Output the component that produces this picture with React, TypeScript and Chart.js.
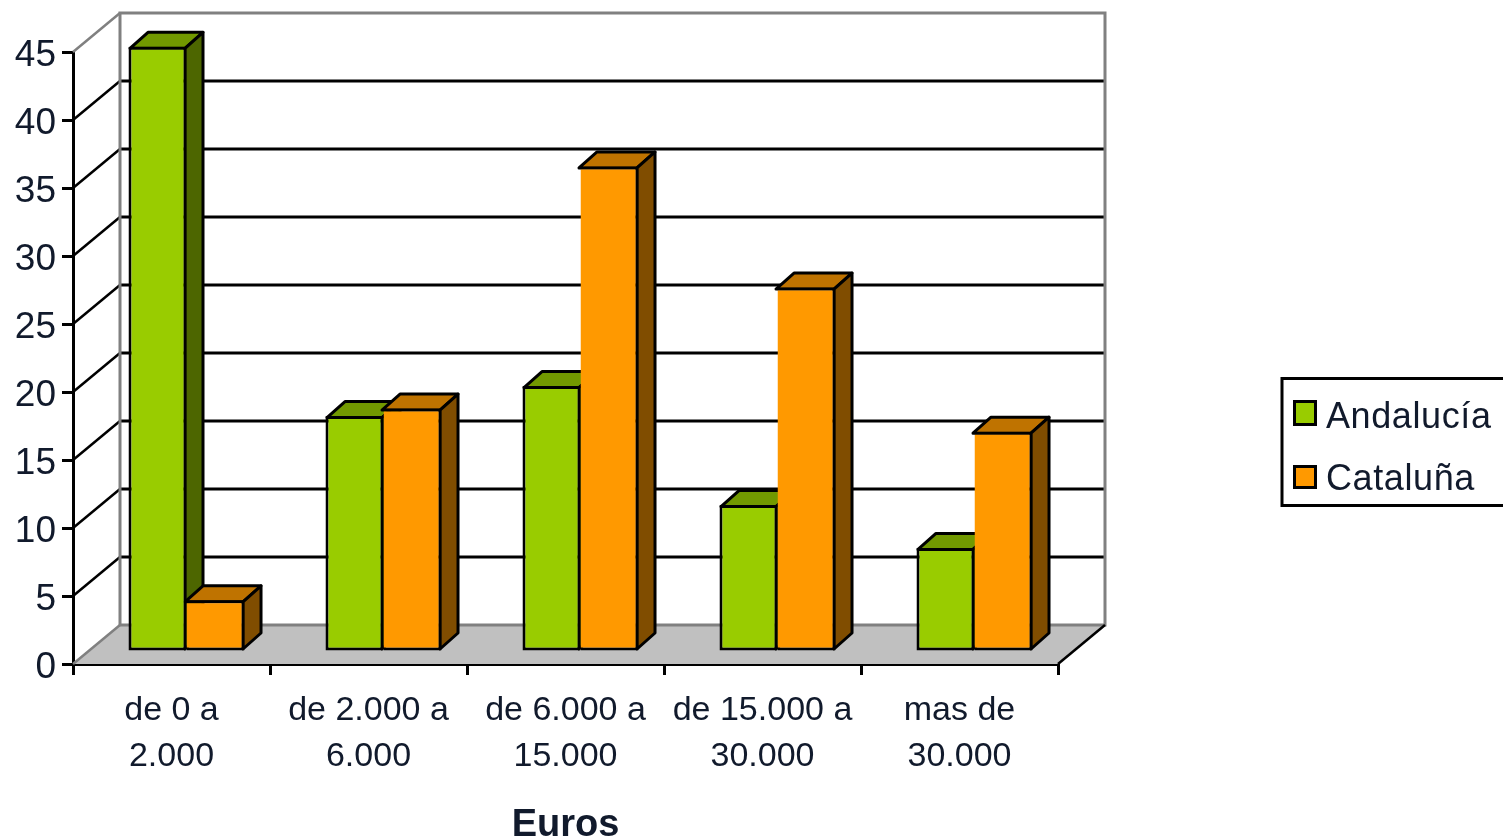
import React, { useEffect, useRef } from "react";
import { Chart, registerables } from "chart.js";

Chart.register(...registerables);

const categories = [
  ["de 0 a", "2.000"],
  ["de 2.000 a", "6.000"],
  ["de 6.000 a", "15.000"],
  ["de 15.000 a", "30.000"],
  ["mas de", "30.000"],
];
const andalucia = [44.5, 17.35, 19.55, 10.8, 7.65];
const cataluna = [3.8, 17.9, 35.7, 26.8, 16.2];
const yTicks = [0, 5, 10, 15, 20, 25, 30, 35, 40, 45];
const seriesNames = ["Andalucía", "Cataluña"];
const xTitle = "Euros";

const FONT = "'Liberation Sans', Arial, sans-serif";
const TEXT = "#111a2c";
const LW = 3;
const BACK = { dx: 47, dy: -39 };
const BAR = { dx: 15, dy: -12 };
const DEPTH = { dx: 18, dy: -16 };
const Y_LABEL_SHIFT = 4;

const palette = [
  { front: "#99CC00", top: "#729900", side: "#4D6600" },
  { front: "#FF9900", top: "#BF7300", side: "#804D00" },
];

function poly(ctx: CanvasRenderingContext2D, pts: number[][], fill: string | null, stroke: string | null, lw = LW) {
  ctx.beginPath();
  pts.forEach((p, i) => (i ? ctx.lineTo(p[0], p[1]) : ctx.moveTo(p[0], p[1])));
  ctx.closePath();
  if (fill) {
    ctx.fillStyle = fill;
    ctx.fill();
  }
  if (stroke) {
    ctx.strokeStyle = stroke;
    ctx.lineWidth = lw;
    ctx.lineJoin = "round";
    ctx.stroke();
  }
}

const wallsPlugin = {
  id: "walls",
  beforeDraw(chart: any) {
    // Lower the y tick labels a little, once, as in the reference.
    const scale = chart.scales.y;
    scale.getLabelItems().forEach((item: any) => {
      if (!item.shifted) {
        item.textOffset += Y_LABEL_SHIFT;
        item.shifted = true;
      }
    });
  },
  beforeDatasetsDraw(chart: any) {
    const { ctx, scales, chartArea } = chart;
    const { left, right } = chartArea;
    const y = scales.y;
    const y0 = y.getPixelForValue(0);
    const yMax = y.getPixelForValue(45);
    ctx.save();
    poly(
      ctx,
      [
        [left, y0],
        [left + BACK.dx, y0 + BACK.dy],
        [right + BACK.dx, y0 + BACK.dy],
        [right, y0],
      ],
      "#C0C0C0",
      null
    );
    yTicks.forEach((t) => {
      const py = y.getPixelForValue(t);
      const inner = t > 0 && t < 45;
      ctx.lineWidth = LW;
      if (inner) {
        ctx.strokeStyle = "#000";
        ctx.beginPath();
        ctx.moveTo(left + BACK.dx, py + BACK.dy);
        ctx.lineTo(right + BACK.dx, py + BACK.dy);
        ctx.stroke();
      }
      ctx.strokeStyle = inner ? "#000" : "#808080";
      ctx.lineWidth = 2.5;
      ctx.beginPath();
      ctx.moveTo(left, py);
      ctx.lineTo(left + BACK.dx, py + BACK.dy);
      ctx.stroke();
    });
    ctx.strokeStyle = "#808080";
    ctx.lineWidth = LW;
    ctx.lineJoin = "miter";
    ctx.beginPath();
    ctx.moveTo(left + BACK.dx, y0 + BACK.dy);
    ctx.lineTo(left + BACK.dx, yMax + BACK.dy);
    ctx.lineTo(right + BACK.dx, yMax + BACK.dy);
    ctx.lineTo(right + BACK.dx, y0 + BACK.dy);
    ctx.closePath();
    ctx.stroke();
    ctx.strokeStyle = "#000";
    ctx.lineWidth = 2.5;
    ctx.beginPath();
    ctx.moveTo(right, y0);
    ctx.lineTo(right + BACK.dx, y0 + BACK.dy);
    ctx.stroke();
    ctx.restore();

    // The bars stand in the middle of the floor's depth. Their hidden faces
    // are painted first, series by series, so the fronts cover them correctly.
    ctx.save();
    ctx.translate(BAR.dx, BAR.dy);
    chart.data.datasets.forEach((_: any, i: number) => {
      const colors = palette[i];
      chart.getDatasetMeta(i).data.forEach((bar: any) => {
        const half = bar.width / 2;
        const l = bar.x - half + (i === 0 ? LW / 2 : -LW / 2);
        const r = bar.x + half - LW / 2;
        const t = bar.y + LW / 2;
        const b = bar.base - LW / 2;
        poly(
          ctx,
          [
            [l, t],
            [l + DEPTH.dx, t + DEPTH.dy],
            [r + DEPTH.dx, t + DEPTH.dy],
            [r, t],
          ],
          colors.top,
          "#000"
        );
        poly(
          ctx,
          [
            [r, t],
            [r + DEPTH.dx, t + DEPTH.dy],
            [r + DEPTH.dx, b + DEPTH.dy],
            [r, b],
          ],
          colors.side,
          "#000"
        );
      });
    });
  },
  afterDatasetsDraw(chart: any) {
    chart.ctx.restore();
  },
};

const legendPlugin = {
  id: "boxLegend",
  afterDraw(chart: any) {
    const { ctx } = chart;
    ctx.save();
    ctx.fillStyle = "#fff";
    ctx.strokeStyle = "#000";
    ctx.lineWidth = LW;
    ctx.beginPath();
    ctx.rect(1282, 378.5, 240, 127);
    ctx.fill();
    ctx.stroke();
    chart.data.datasets.forEach((d: any, i: number) => {
      const top = 401.5 + i * 65;
      ctx.fillStyle = d.backgroundColor;
      ctx.fillRect(1294.5, top, 21, i === 0 ? 23 : 21);
      ctx.strokeStyle = "#000";
      ctx.strokeRect(1294.5, top, 21, i === 0 ? 23 : 21);
      ctx.fillStyle = TEXT;
      ctx.font = `36px ${FONT}`;
      ctx.textAlign = "left";
      ctx.textBaseline = "alphabetic";
      (ctx as any).letterSpacing = "0.6px";
      ctx.fillText(d.label, 1326, 428 + i * 62);
    });
    ctx.restore();
  },
};

export default function App() {
  const ref = useRef<HTMLCanvasElement>(null);
  useEffect(() => {
    const chart = new Chart(ref.current!, {
      type: "bar",
      data: {
        labels: categories,
        datasets: [
          {
            label: seriesNames[0],
            data: andalucia,
            backgroundColor: palette[0].front,
            borderColor: "#000",
            borderWidth: LW,
            borderSkipped: false,
          },
          {
            label: seriesNames[1],
            data: cataluna,
            backgroundColor: palette[1].front,
            borderColor: "#000",
            borderWidth: { top: LW, right: LW, bottom: LW, left: 0 },
            borderSkipped: false,
          },
        ],
      } as any,
      options: {
        responsive: false,
        animation: false,
        devicePixelRatio: 1,
        clip: false,
        layout: { padding: { left: 0, top: 52, right: 445, bottom: 0 } },
        datasets: { bar: { barPercentage: 1, categoryPercentage: 0.589 } },
        plugins: { legend: { display: false }, tooltip: { enabled: false } },
        scales: {
          x: {
            afterFit(scale: any) {
              scale.height = 175;
            },
            grid: { drawOnChartArea: false, color: "#000", lineWidth: LW, tickLength: 11, offset: true },
            border: { color: "#000", width: LW },
            ticks: {
              color: TEXT,
              font: { family: FONT, size: 34, lineHeight: 1.35 },
              maxRotation: 0,
              autoSkip: false,
              padding: 13,
            },
            title: {
              display: true,
              text: xTitle,
              color: TEXT,
              font: { family: FONT, size: 38, weight: "bold" },
              padding: { top: 0, bottom: -9 },
            },
          },
          y: {
            min: 0,
            max: 45,
            afterFit(scale: any) {
              scale.width = 73;
            },
            afterBuildTicks(scale: any) {
              scale.ticks = yTicks.map((value) => ({ value }));
            },
            grid: { drawOnChartArea: false, color: "#000", lineWidth: LW, tickLength: 11 },
            border: { color: "#000", width: LW },
            ticks: {
              color: TEXT,
              font: { family: FONT, size: 37 },
              padding: 6,
            },
          },
        },
      } as any,
      plugins: [wallsPlugin, legendPlugin],
    });
    return () => chart.destroy();
  }, []);
  return (
    <canvas
      ref={ref}
      width={1503}
      height={839}
      style={{ position: "fixed", left: 0, top: 0, width: 1503, height: 839 }}
    />
  );
}
